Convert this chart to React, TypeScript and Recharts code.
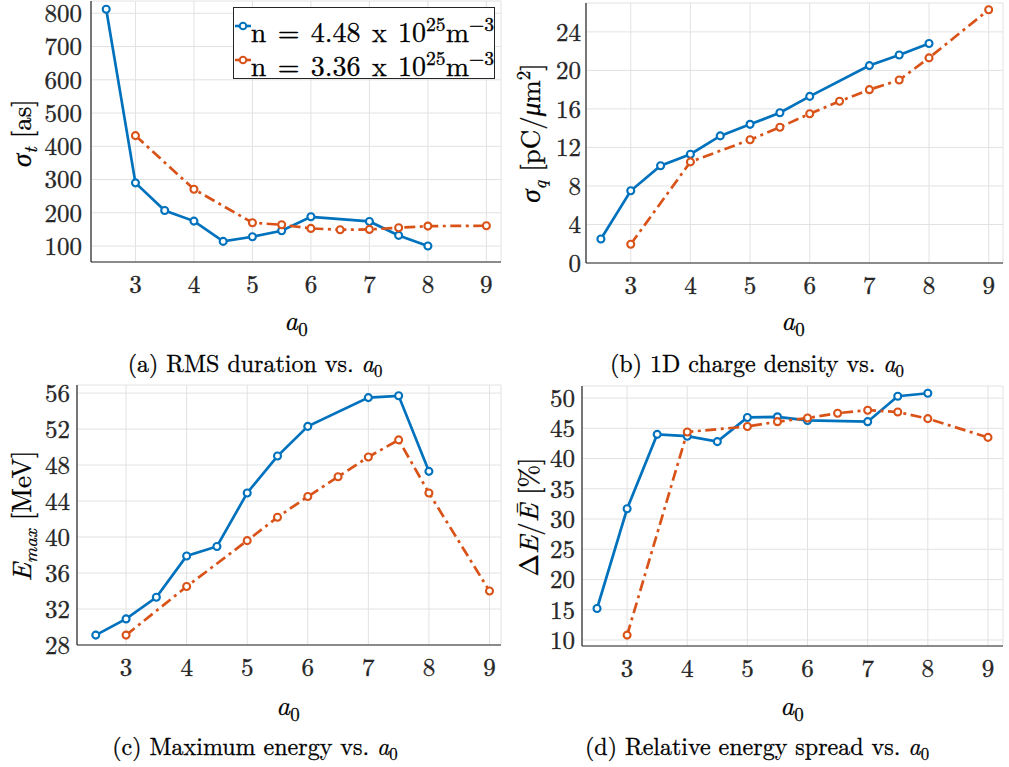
import React from 'react';
import { LineChart, Line, XAxis, YAxis, CartesianGrid, Legend } from 'recharts';

// ---------- data ----------
const a0Blue = [2.5, 3, 3.5, 4, 4.5, 5, 5.5, 6, 7, 7.5, 8];
const a0Orange = [3, 4, 5, 5.5, 6, 6.5, 7, 7.5, 8, 9];
const xTicks = [3, 4, 5, 6, 7, 8, 9];

const densities = ['4.48', '3.36'];

const durationBlue = [812, 290, 207, 175, 114, 128, 146, 188, 174, 132, 100];
const durationOrange = [432, 271, 170, 164, 153, 149, 150, 155, 160, 161];
const durationTicks = [100, 200, 300, 400, 500, 600, 700, 800];

const chargeBlue = [2.5, 7.5, 10.1, 11.3, 13.2, 14.4, 15.6, 17.3, 20.5, 21.6, 22.8];
const chargeOrange = [1.95, 10.5, 12.8, 14.1, 15.5, 16.8, 18.0, 19.0, 21.3, 26.3];
const chargeTicks = [0, 4, 8, 12, 16, 20, 24];

const energyBlue = [29.1, 30.9, 33.3, 37.9, 38.95, 44.9, 49.0, 52.3, 55.5, 55.7, 47.3];
const energyOrange = [29.1, 34.5, 39.6, 42.2, 44.5, 46.7, 48.9, 50.8, 44.9, 34.0];
const energyTicks = [28, 32, 36, 40, 44, 48, 52, 56];

const spreadBlue = [15.2, 31.7, 44.0, 43.7, 42.8, 46.8, 46.9, 46.3, 46.1, 50.3, 50.8];
const spreadOrange = [10.8, 44.4, 45.3, 46.1, 46.7, 47.5, 48.0, 47.7, 46.6, 43.5];
const spreadTicks = [10, 15, 20, 25, 30, 35, 40, 45, 50];

// ---------- styles ----------
const FONT = "'Latin Modern Roman', 'Liberation Serif'";
const BLUE = '#0072BD';
const ORANGE = '#D95319';
const AXIS = '#262626';
const GRID = '#e2e2e2';
const DASH = '11 4.5 3 4.5';

const CSS = `body{margin:0}
.recharts-cartesian-axis-tick-value { font-family: 'Latin Modern Roman', 'Liberation Serif' !important; stroke: #262626; stroke-width: 0.35px; }
.txt { -webkit-text-stroke: 0.3px #000; }`;

type Pt = { a0: number; v: number };
const zip = (xs: number[], ys: number[]): Pt[] => xs.map((a0, i) => ({ a0, v: ys[i] }));

const Sub = ({ children }: { children: React.ReactNode }) => (
  <span style={{ fontSize: '0.7em', verticalAlign: '-0.3em', fontStyle: 'normal' }}>{children}</span>
);
const Sup = ({ children }: { children: React.ReactNode }) => (
  <span style={{ fontSize: '0.7em', verticalAlign: '0.55em' }}>{children}</span>
);
const A0 = () => (
  <span>
    <i>a</i>
    <Sub>0</Sub>
  </span>
);

const LegendBox = (props: any) => {
  const payload = (props.payload || []) as any[];
  return (
    <div
      className="txt"
      style={{
        width: 262,
        height: 72,
        boxSizing: 'border-box',
        border: `1.3px solid ${AXIS}`,
        background: '#fff',
        fontFamily: FONT,
        fontSize: 28,
        color: '#000',
        paddingTop: 1,
      }}
    >
      {payload.map((entry, i) => (
        <div key={i} style={{ display: 'flex', alignItems: 'center', height: 34, whiteSpace: 'nowrap', lineHeight: '28px' }}>
          <svg width={16} height={12} style={{ marginLeft: 1, marginRight: 0 }}>
            <line x1={0} x2={16} y1={6} y2={6} stroke={entry.color} strokeWidth={2.6} />
            <circle cx={8} cy={6} r={3.3} stroke={entry.color} strokeWidth={2} fill="#fff" />
          </svg>
          <span style={{ wordSpacing: 2 }}>
            n = {densities[i]} x 10<Sup>25</Sup>m<Sup>−3</Sup>
          </span>
        </div>
      ))}
    </div>
  );
};

interface PanelProps {
  chart: [number, number, number, number]; // left, top, width, height
  plot: [number, number, number, number]; // left, top, right, bottom
  xDomain: [number, number];
  yDomain: [number, number];
  yTicks: number[];
  blue: number[];
  orange: number[];
  yMargin: number;
  legend?: boolean;
}

const Panel = ({ chart, plot, xDomain, yDomain, yTicks, blue, orange, yMargin, legend }: PanelProps) => {
  const [cl, ct, cw, ch] = chart;
  const [pl, pt, pr, pb] = plot;
  const yW = pl - cl;
  const xH = ct + ch - pb;
  const tickStyle = { fill: AXIS, fontSize: 25, fontFamily: FONT };
  return (
    <div style={{ position: 'absolute', left: cl, top: ct, width: cw, height: ch, fontFamily: FONT }}>
      <LineChart
        width={cw}
        height={ch}
        margin={{ top: pt - ct, right: cl + cw - pr, left: 0, bottom: 0 }}
        style={{ fontFamily: FONT }}
      >
        <CartesianGrid stroke={GRID} strokeWidth={1} />
        <XAxis
          dataKey="a0"
          type="number"
          domain={xDomain}
          ticks={xTicks}
          interval={0}
          allowDataOverflow
          height={xH}
          tickLine={false}
          tickSize={0}
          tickMargin={13}
          tick={tickStyle}
          stroke={AXIS}
          axisLine={{ stroke: AXIS, strokeWidth: 1.2 }}
        />
        <YAxis
          type="number"
          domain={yDomain}
          ticks={yTicks}
          interval={0}
          allowDataOverflow
          width={yW}
          tickLine={false}
          tickSize={0}
          tickMargin={yMargin}
          tick={tickStyle}
          stroke={AXIS}
          axisLine={{ stroke: AXIS, strokeWidth: 1.2 }}
        />
        {/* inward tick marks and box */}
        <XAxis xAxisId="bt" type="number" domain={xDomain} ticks={xTicks} interval={0} allowDataOverflow orientation="bottom" mirror height={0} tick={false} axisLine={false} tickSize={5} tickLine={{ stroke: AXIS }} />
        <XAxis xAxisId="tp" type="number" domain={xDomain} ticks={xTicks} interval={0} allowDataOverflow orientation="top" mirror height={0} tick={false} axisLine={{ stroke: AXIS, strokeWidth: 1.2 }} tickSize={5} tickLine={{ stroke: AXIS }} />
        <YAxis yAxisId="lt" type="number" domain={yDomain} ticks={yTicks} interval={0} allowDataOverflow orientation="left" mirror width={0} tick={false} axisLine={false} tickSize={5} tickLine={{ stroke: AXIS }} />
        <YAxis yAxisId="rt" type="number" domain={yDomain} ticks={yTicks} interval={0} allowDataOverflow orientation="right" mirror width={0} tick={false} axisLine={{ stroke: AXIS, strokeWidth: 1.2 }} tickSize={5} tickLine={{ stroke: AXIS }} />
        <Line
          data={zip(a0Blue, blue)}
          dataKey="v"
          name="blue"
          stroke={BLUE}
          strokeWidth={2.7}
          dot={{ r: 3.5, stroke: BLUE, strokeWidth: 2.1, fill: '#fff' }}
          activeDot={false}
          isAnimationActive={false}
        />
        <Line
          data={zip(a0Orange, orange)}
          dataKey="v"
          name="orange"
          stroke={ORANGE}
          strokeWidth={2.7}
          strokeDasharray={DASH}
          dot={{ r: 3.5, stroke: ORANGE, strokeWidth: 2.1, fill: '#fff', strokeDasharray: '' }}
          activeDot={false}
          isAnimationActive={false}
        />
        {legend && (
          <Legend
            layout="vertical"
            align="center"
            verticalAlign="middle"
            content={<LegendBox />}
            wrapperStyle={{ left: 233, top: 7 - ct, width: 262, height: 72 }}
          />
        )}
      </LineChart>
    </div>
  );
};

const Abs = ({ x, y, rotate, size, children }: { x: number; y: number; rotate?: boolean; size: number; children: React.ReactNode }) => (
  <div
    className="txt"
    style={{
      position: 'absolute',
      left: x,
      top: y,
      transform: `translate(-50%, -50%)${rotate ? ' rotate(-90deg)' : ''}`,
      whiteSpace: 'nowrap',
      fontFamily: FONT,
      fontSize: size,
      color: '#000',
      lineHeight: 1,
    }}
  >
    {children}
  </div>
);

const CAP = 24;
const LAB = 27;

export default function App() {
  return (
    <div style={{ position: 'relative', width: 1009, height: 767, background: '#fff', overflow: 'hidden', fontFamily: FONT }}>
      <style>{CSS}</style>
      <Panel
        chart={[0, 0, 505, 330]}
        plot={[91, 1, 501, 262]}
        xDomain={[2.24, 9.25]}
        yDomain={[52, 837]}
        yTicks={durationTicks}
        blue={durationBlue}
        orange={durationOrange}
        yMargin={9}
        legend
      />
      <Panel
        chart={[505, 0, 504, 330]}
        plot={[586, 3, 1003, 263]}
        xDomain={[2.25, 9.24]}
        yDomain={[0, 27]}
        yTicks={chargeTicks}
        blue={chargeBlue}
        orange={chargeOrange}
        yMargin={5}
      />
      <Panel
        chart={[0, 370, 505, 340]}
        plot={[77, 385, 501, 645]}
        xDomain={[2.19, 9.19]}
        yDomain={[28, 56.9]}
        yTicks={energyTicks}
        blue={energyBlue}
        orange={energyOrange}
        yMargin={7}
      />
      <Panel
        chart={[505, 370, 504, 340]}
        plot={[582, 386, 1003, 646]}
        xDomain={[2.25, 9.25]}
        yDomain={[9, 52]}
        yTicks={spreadTicks}
        blue={spreadBlue}
        orange={spreadOrange}
        yMargin={7}
      />

      {/* y labels */}
      <Abs x={23} y={133} rotate size={LAB}>
        <i>σ</i><Sub><i>t</i></Sub> [as]
      </Abs>
      <Abs x={530} y={133} rotate size={LAB}>
        <i>σ</i><Sub><i>q</i></Sub> [pC/<i>μ</i>m<Sup>2</Sup>]
      </Abs>
      <Abs x={23} y={516} rotate size={LAB}>
        <i>E</i><Sub><i>max</i></Sub> [MeV]
      </Abs>
      <Abs x={527} y={517} rotate size={LAB}>
        Δ<i>E</i>/<i>Ē</i> [%]
      </Abs>

      {/* x labels */}
      <Abs x={296} y={322} size={LAB}><A0 /></Abs>
      <Abs x={793} y={322} size={LAB}><A0 /></Abs>
      <Abs x={288} y={707} size={LAB}><A0 /></Abs>
      <Abs x={792} y={707} size={LAB}><A0 /></Abs>

      {/* captions */}
      <Abs x={255} y={364} size={CAP}>
        (a) RMS duration vs. <A0 />
      </Abs>
      <Abs x={757} y={364} size={CAP}>
        (b) 1D charge density vs. <A0 />
      </Abs>
      <Abs x={255} y={747} size={CAP}>
        (c) Maximum energy vs. <A0 />
      </Abs>
      <Abs x={757} y={747} size={CAP}>
        (d) Relative energy spread vs. <A0 />
      </Abs>
    </div>
  );
}
